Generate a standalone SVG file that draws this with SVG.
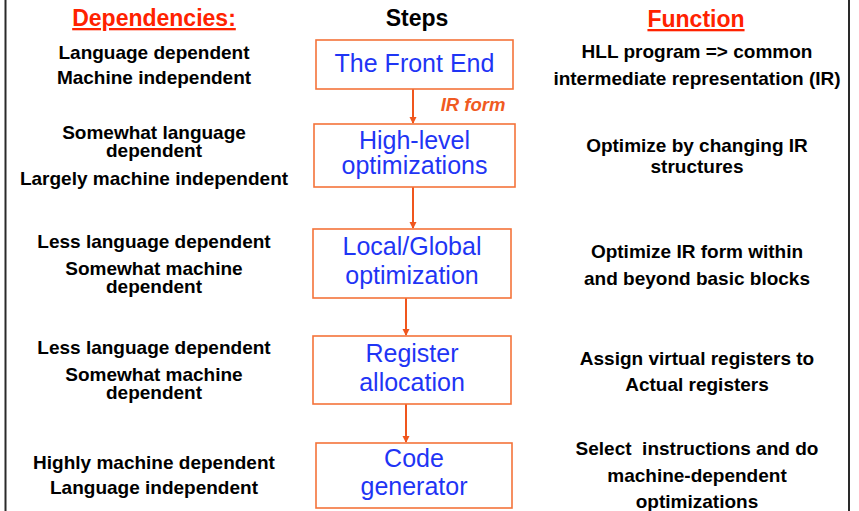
<svg xmlns="http://www.w3.org/2000/svg" width="859" height="511" viewBox="0 0 859 511">
<defs>
<style>
.hdr{font-family:"Liberation Sans",Arial,sans-serif;font-weight:bold;font-size:23px;text-anchor:middle}
.red{fill:#FF2200;text-decoration:underline}
.lbl{font-family:"Liberation Sans",Arial,sans-serif;font-weight:bold;font-size:19px;fill:#000;text-anchor:middle}
.box{fill:#fff;stroke:#F4733A;stroke-width:1.6}
.btx{font-family:"Liberation Sans",Arial,sans-serif;font-size:25px;fill:#1F35F5;text-anchor:middle}
.conn{stroke:#F0561D;stroke-width:2;fill:none}
.frame{stroke:#2a2a2a;stroke-width:2}
</style>
<marker id="ah" markerWidth="8" markerHeight="8" refX="6" refY="3.5" orient="auto" markerUnits="userSpaceOnUse">
<path d="M0,0 L7,3.5 L0,7 z" fill="#F0561D"/>
</marker>
</defs>
<rect x="0" y="0" width="859" height="511" fill="#fff"/>
<line class="frame" x1="5.5" y1="0" x2="5.5" y2="511"/>
<line class="frame" x1="849" y1="0" x2="849" y2="511"/>

<g id="headers">
<text class="hdr red" x="154" y="26">Dependencies:</text>
<text class="hdr" x="417" y="26">Steps</text>
<text class="hdr red" x="696" y="27">Function</text>
</g>

<g id="connectors">
<line class="conn" x1="413" y1="89" x2="413" y2="123" marker-end="url(#ah)"/>
<line class="conn" x1="413" y1="187" x2="413" y2="228" marker-end="url(#ah)"/>
<line class="conn" x1="406" y1="298" x2="406" y2="335" marker-end="url(#ah)"/>
<line class="conn" x1="406" y1="404" x2="406" y2="442" marker-end="url(#ah)"/>
<text x="473" y="111" font-family="Liberation Sans,Arial,sans-serif" font-weight="bold" font-style="italic" font-size="18.5" fill="#F05A22" text-anchor="middle">IR form</text>
</g>

<g id="front-end">
<rect class="box" x="316" y="40" width="197" height="49"/>
<text class="btx" x="414.5" y="72">The Front End</text>
</g>
<g id="high-level">
<rect class="box" x="314" y="124" width="201" height="63"/>
<text class="btx" x="414.5" y="149">High-level</text>
<text class="btx" x="414.5" y="174">optimizations</text>
</g>
<g id="local-global">
<rect class="box" x="313" y="229" width="198" height="69"/>
<text class="btx" x="412" y="255">Local/Global</text>
<text class="btx" x="412" y="284">optimization</text>
</g>
<g id="register">
<rect class="box" x="313" y="336" width="198" height="68"/>
<text class="btx" x="412" y="362">Register</text>
<text class="btx" x="412" y="391">allocation</text>
</g>
<g id="code-gen">
<rect class="box" x="316" y="443" width="196" height="65"/>
<text class="btx" x="414" y="467">Code</text>
<text class="btx" x="414" y="495">generator</text>
</g>

<g id="dependencies">
<text class="lbl" x="154" y="59">Language dependent</text>
<text class="lbl" x="154" y="84">Machine independent</text>
<text class="lbl" x="154" y="139">Somewhat language</text>
<text class="lbl" x="154" y="157">dependent</text>
<text class="lbl" x="154" y="185">Largely machine independent</text>
<text class="lbl" x="154" y="248">Less language dependent</text>
<text class="lbl" x="154" y="275">Somewhat machine</text>
<text class="lbl" x="154" y="293">dependent</text>
<text class="lbl" x="154" y="354">Less language dependent</text>
<text class="lbl" x="154" y="381">Somewhat machine</text>
<text class="lbl" x="154" y="399">dependent</text>
<text class="lbl" x="154" y="469">Highly machine dependent</text>
<text class="lbl" x="154" y="494">Language independent</text>
</g>

<g id="functions">
<text class="lbl" x="697" y="58">HLL program =&gt; common</text>
<text class="lbl" x="697" y="85">intermediate representation (IR)</text>
<text class="lbl" x="697" y="152">Optimize by changing IR</text>
<text class="lbl" x="697" y="173">structures</text>
<text class="lbl" x="697" y="258">Optimize IR form within</text>
<text class="lbl" x="697" y="285">and beyond basic blocks</text>
<text class="lbl" x="697" y="365">Assign virtual registers to</text>
<text class="lbl" x="697" y="391">Actual registers</text>
<text class="lbl" x="697" y="455" style="white-space:pre">Select  instructions and do</text>
<text class="lbl" x="697" y="482">machine-dependent</text>
<text class="lbl" x="697" y="508">optimizations</text>
</g>
</svg>
